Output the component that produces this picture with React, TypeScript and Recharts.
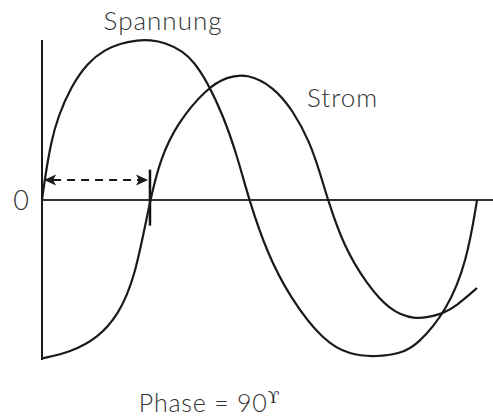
import React from 'react';
import { LineChart, Line, XAxis, YAxis, ReferenceLine, ReferenceDot } from 'recharts';

// Phase angle in degrees (x) and normalised amplitude (y)
const spannungX = [0, 2.5, 7.4, 13.2, 24, 38, 52.1, 65.3, 79.4, 89.3, 101.7, 116.6, 126, 136.5, 149.7, 161.3, 171.2, 186.1, 205.1, 232.4, 254.7, 277.1, 296, 310.1, 335, 351.5, 359.8];
const spannungY = [0, 0.14, 0.36, 0.52, 0.71, 0.86, 0.94, 0.98, 1.0, 1.0, 0.985, 0.93, 0.86, 0.74, 0.53, 0.28, 0, -0.33, -0.61, -0.88, -0.97, -0.98, -0.96, -0.91, -0.69, -0.38, 0];

const stromX = [0, 24, 46.3, 62.9, 76.9, 89.3, 97.6, 111.7, 136.5, 153, 169.5, 191.1, 207.6, 221.6, 229.9, 236.5, 249, 268.8, 287.8, 306.8, 329.2, 343.2, 359.8];
const stromY = [-0.99, -0.95, -0.86, -0.72, -0.49, 0, 0.25, 0.48, 0.7, 0.77, 0.79, 0.71, 0.56, 0.36, 0.17, 0, -0.28, -0.53, -0.69, -0.75, -0.72, -0.66, -0.55];

const yTicks = [0];
const phaseStart = 1.7;
const phaseEnd = 87.7;
const phaseMark = 89.3;

const labelSpannung = 'Spannung';
const labelStrom = 'Strom';
const labelPhase = 'Phase = 90';
const labelDegree = 'ϒ';

const spannung = spannungX.map((x, i) => ({ x, y: spannungY[i] }));
const strom = stromX.map((x, i) => ({ x, y: stromY[i] }));

const FONT = "Lato, 'Open Sans', sans-serif";
const TEXT = '#333';

const textLabel = (text: string, anchor: string, size: number, spacing: number, extra?: React.ReactNode) => (props: any) => {
  const vb = props.viewBox || {};
  const cx = (vb.x ?? 0) + (vb.width ?? 0) / 2;
  const cy = (vb.y ?? 0) + (vb.height ?? 0) / 2;
  return (
    <text x={cx} y={cy} textAnchor={anchor} fontFamily={FONT} fontWeight={300} fontSize={size} letterSpacing={spacing} fill={TEXT}>
      {text}
      {extra}
    </text>
  );
};

const ArrowShape = (props: any) => {
  const { x1, y1, x2 } = props;
  const y = y1;
  const head = 12;
  return (
    <g>
      <line x1={x1 + 9} y1={y} x2={x2 - 9} y2={y} stroke="#1a1a1a" strokeWidth={2} strokeDasharray="8 6" />
      <path d={`M ${x1} ${y} L ${x1 + head} ${y - 5.5} L ${x1 + 9} ${y} L ${x1 + head} ${y + 5.5} Z`} fill="#1a1a1a" />
      <path d={`M ${x2} ${y} L ${x2 - head} ${y - 5.5} L ${x2 - 9} ${y} L ${x2 - head} ${y + 5.5} Z`} fill="#1a1a1a" />
    </g>
  );
};

export default function App() {
  return (
    <div style={{ position: 'absolute', left: 0, top: 0, width: 493, height: 420, background: '#fff' }}>
      <LineChart width={493} height={420} margin={{ top: 40, right: 0, bottom: 60, left: 0 }}>
        <XAxis type="number" dataKey="x" domain={[0, 373]} hide allowDataOverflow />
        <YAxis
          type="number"
          domain={[-1, 1]}
          ticks={yTicks}
          width={42}
          tickLine={false}
          tickSize={0}
          tickMargin={13}
          axisLine={{ stroke: '#1a1a1a', strokeWidth: 2 }}
          tick={{ fontFamily: FONT, fontWeight: 300, fontSize: 27, fill: TEXT }}
        />
        <ReferenceLine y={0} stroke="#333" strokeWidth={2} />
        <ReferenceLine
          segment={[{ x: phaseMark, y: 0.19 }, { x: phaseMark, y: -0.16 }]}
          stroke="#111"
          strokeWidth={2.5}
        />
        <ReferenceLine
          segment={[{ x: phaseStart, y: 0.125 }, { x: phaseEnd, y: 0.125 }]}
          shape={ArrowShape}
        />
        <Line data={spannung} dataKey="y" type="basis" stroke="#1a1a1a" strokeWidth={2.2} dot={false} isAnimationActive={false} />
        <Line data={strom} dataKey="y" type="basis" stroke="#1a1a1a" strokeWidth={2.2} dot={false} isAnimationActive={false} />
        <ReferenceDot x={100.1} y={1.0625} r={0} ifOverflow="visible" label={textLabel(labelSpannung, 'middle', 26, 1)} />
        <ReferenceDot x={219.2} y={0.58} r={0} ifOverflow="visible" label={textLabel(labelStrom, 'start', 26, 1)} />
        <ReferenceDot
          x={138.5}
          y={-1.325}
          r={0}
          ifOverflow="visible"
          label={textLabel(
            labelPhase,
            'middle',
            25,
            0.8,
            <tspan fontFamily="'DejaVu Serif', serif" fontSize={17} dy={-9}>{labelDegree}</tspan>
          )}
        />
      </LineChart>
    </div>
  );
}
